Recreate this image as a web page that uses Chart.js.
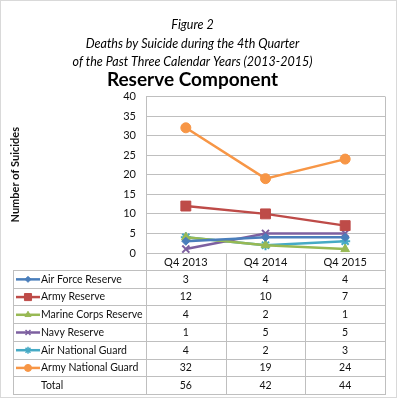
<!DOCTYPE html>
<html>
<head>
<meta charset="utf-8">
<script src="https://cdn.jsdelivr.net/npm/chart.js@4"></script>
<style>
html,body{margin:0;padding:0;background:#fff;}
#wrap{width:400px;height:398px;position:relative;}
</style>
</head>
<body>
<div id="wrap"><canvas id="c" width="400" height="398"></canvas></div>
<script>
const categories = ['Q4 2013', 'Q4 2014', 'Q4 2015'];
const airForceReserve = [3, 4, 4];
const armyReserve = [12, 10, 7];
const marineCorpsReserve = [4, 2, 1];
const navyReserve = [1, 5, 5];
const airNationalGuard = [4, 2, 3];
const armyNationalGuard = [32, 19, 24];
const totals = [56, 42, 44];
const seriesNames = ['Air Force Reserve', 'Army Reserve', 'Marine Corps Reserve', 'Navy Reserve', 'Air National Guard', 'Army National Guard'];
const yMin = 0, yMax = 40, yStep = 5;
const titleLines = ['Figure 2', 'Deaths by Suicide during the 4th Quarter', 'of the Past Three Calendar Years (2013-2015)'];
const subtitleText = 'Reserve Component';
const yAxisTitle = 'Number of Suicides';
const totalLabel = 'Total';

const FONT = "Lato, 'Open Sans', sans-serif";
const styles = [
  {color:'#4A7EBB', pointStyle:'rectRot', radius:4, legendRadius:3},
  {color:'#BE4B48', pointStyle:'rect', radius:7, legendRadius:5},
  {color:'#98B954', pointStyle:'triangle', radius:5, legendRadius:3.5},
  {color:'#7D60A0', pointStyle:'crossRot', radius:5, legendRadius:3.5},
  {color:'#46AAC5', pointStyle:'star', radius:5, legendRadius:3.5},
  {color:'#F79646', pointStyle:'circle', radius:5, legendRadius:3.5}
];
const seriesData = [airForceReserve, armyReserve, marineCorpsReserve, navyReserve, airNationalGuard, armyNationalGuard];

const datasets = seriesData.map((d, i) => ({
  label: seriesNames[i],
  data: d,
  borderColor: styles[i].color,
  backgroundColor: styles[i].color,
  pointStyle: styles[i].pointStyle,
  pointRadius: styles[i].radius,
  pointHoverRadius: styles[i].radius,
  pointBorderWidth: (styles[i].pointStyle === 'crossRot' || styles[i].pointStyle === 'star') ? 2 : 1,
  borderWidth: 2.5,
  tension: 0,
  fill: false
}));

const GRID = '#BFBFBF';
const TABLE_LEFT = 13;
const TABLE_BOTTOM = 394;
const HEADER_BOTTOM = 270;

const tablePlugin = {
  id: 'tablePlugin',
  beforeDraw(chart) {
    const ctx = chart.ctx;
    ctx.save();
    ctx.fillStyle = '#fff';
    ctx.fillRect(0, 0, chart.width, chart.height);
    ctx.strokeStyle = '#D9D9D9';
    ctx.lineWidth = 1;
    ctx.strokeRect(0.5, 0.5, 396, 397);
    ctx.restore();
  },
  afterDraw(chart) {
    const ctx = chart.ctx;
    const xs = chart.scales.x;
    const area = chart.chartArea;
    const n = categories.length;
    const centers = categories.map((_, i) => xs.getPixelForValue(i));
    const half = n > 1 ? (centers[1] - centers[0]) / 2 : (area.right - area.left) / 2;
    const edges = [area.left];
    for (let i = 0; i < n; i++) edges.push(centers[i] + half);
    ctx.save();
    ctx.strokeStyle = GRID;
    ctx.lineWidth = 1;
    ctx.beginPath();
    ctx.moveTo(Math.round(area.right) + 0.5, area.top);
    ctx.lineTo(Math.round(area.right) + 0.5, area.bottom);
    ctx.stroke();
    edges.forEach(x => {
      ctx.beginPath();
      ctx.moveTo(Math.round(x) + 0.5, area.bottom);
      ctx.lineTo(Math.round(x) + 0.5, TABLE_BOTTOM);
      ctx.stroke();
    });
    ctx.beginPath();
    ctx.moveTo(TABLE_LEFT + 0.5, HEADER_BOTTOM);
    ctx.lineTo(TABLE_LEFT + 0.5, TABLE_BOTTOM);
    ctx.stroke();
    const rows = seriesNames.length + 1;
    const rh = (TABLE_BOTTOM - HEADER_BOTTOM) / rows;
    for (let r = 0; r <= rows; r++) {
      const y = Math.round(HEADER_BOTTOM + r * rh) + 0.5;
      ctx.beginPath();
      ctx.moveTo(TABLE_LEFT, y);
      ctx.lineTo(Math.round(area.right) + 1, y);
      ctx.stroke();
    }
    ctx.font = "10.5px " + FONT;
    ctx.fillStyle = '#111';
    ctx.textBaseline = 'middle';
    const allRows = seriesData.concat([totals]);
    for (let r = 0; r < rows; r++) {
      const cy = HEADER_BOTTOM + r * rh + rh / 2 + 0.5;
      if (r < seriesNames.length) {
        const st = styles[r];
        ctx.strokeStyle = st.color;
        ctx.lineWidth = 2.5;
        ctx.beginPath();
        ctx.moveTo(16, cy);
        ctx.lineTo(40, cy);
        ctx.stroke();
        ctx.fillStyle = st.color;
        ctx.lineWidth = (st.pointStyle === 'crossRot' || st.pointStyle === 'star') ? 1.5 : 1;
        Chart.helpers.drawPoint(ctx, {pointStyle: st.pointStyle, radius: st.legendRadius, rotation: 0, borderWidth: ctx.lineWidth}, 28, cy);
        ctx.fillStyle = '#111';
        ctx.textAlign = 'left';
        ctx.fillText(seriesNames[r], 41, cy);
      } else {
        ctx.textAlign = 'left';
        ctx.fillText(totalLabel, 41, cy);
      }
      ctx.textAlign = 'center';
      allRows[r].forEach((v, i) => ctx.fillText(String(v), centers[i], cy));
    }
    ctx.restore();
  }
};

new Chart(document.getElementById('c'), {
  type: 'line',
  data: { labels: categories, datasets: datasets },
  options: {
    responsive: false,
    animation: false,
    events: [],
    layout: { padding: { left: 0, right: 15, top: 0, bottom: 0 } },
    plugins: {
      legend: { display: false },
      tooltip: { enabled: false },
      title: {
        display: true,
        text: titleLines,
        color: '#000',
        font: { family: FONT, size: 12.5, style: 'italic', lineHeight: '18.5px', weight: 'normal' },
        padding: { top: 16, bottom: 0 }
      },
      subtitle: {
        display: true,
        text: subtitleText,
        color: '#000',
        font: { family: FONT, size: 19, weight: 'bold', lineHeight: '16px' },
        padding: { top: 0, bottom: 9 }
      }
    },
    scales: {
      x: {
        offset: true,
        afterFit(s) { s.height = 145; },
        grid: { display: false, drawTicks: false, tickLength: 0 },
        border: { display: false },
        ticks: { color: '#111', font: { family: FONT, size: 11 }, padding: 3 }
      },
      y: {
        min: yMin, max: yMax,
        afterFit(s) { s.width = 146; },
        ticks: { stepSize: yStep, color: '#111', font: { family: FONT, size: 11 }, padding: 10 },
        grid: { color: GRID, drawTicks: false },
        border: { display: true, color: GRID },
        title: { display: true, text: yAxisTitle, color: '#111', font: { family: FONT, size: 11, weight: 'bold' }, padding: { top: 9, bottom: 0 } }
      }
    }
  },
  plugins: [tablePlugin]
});
</script>
</body>
</html>
